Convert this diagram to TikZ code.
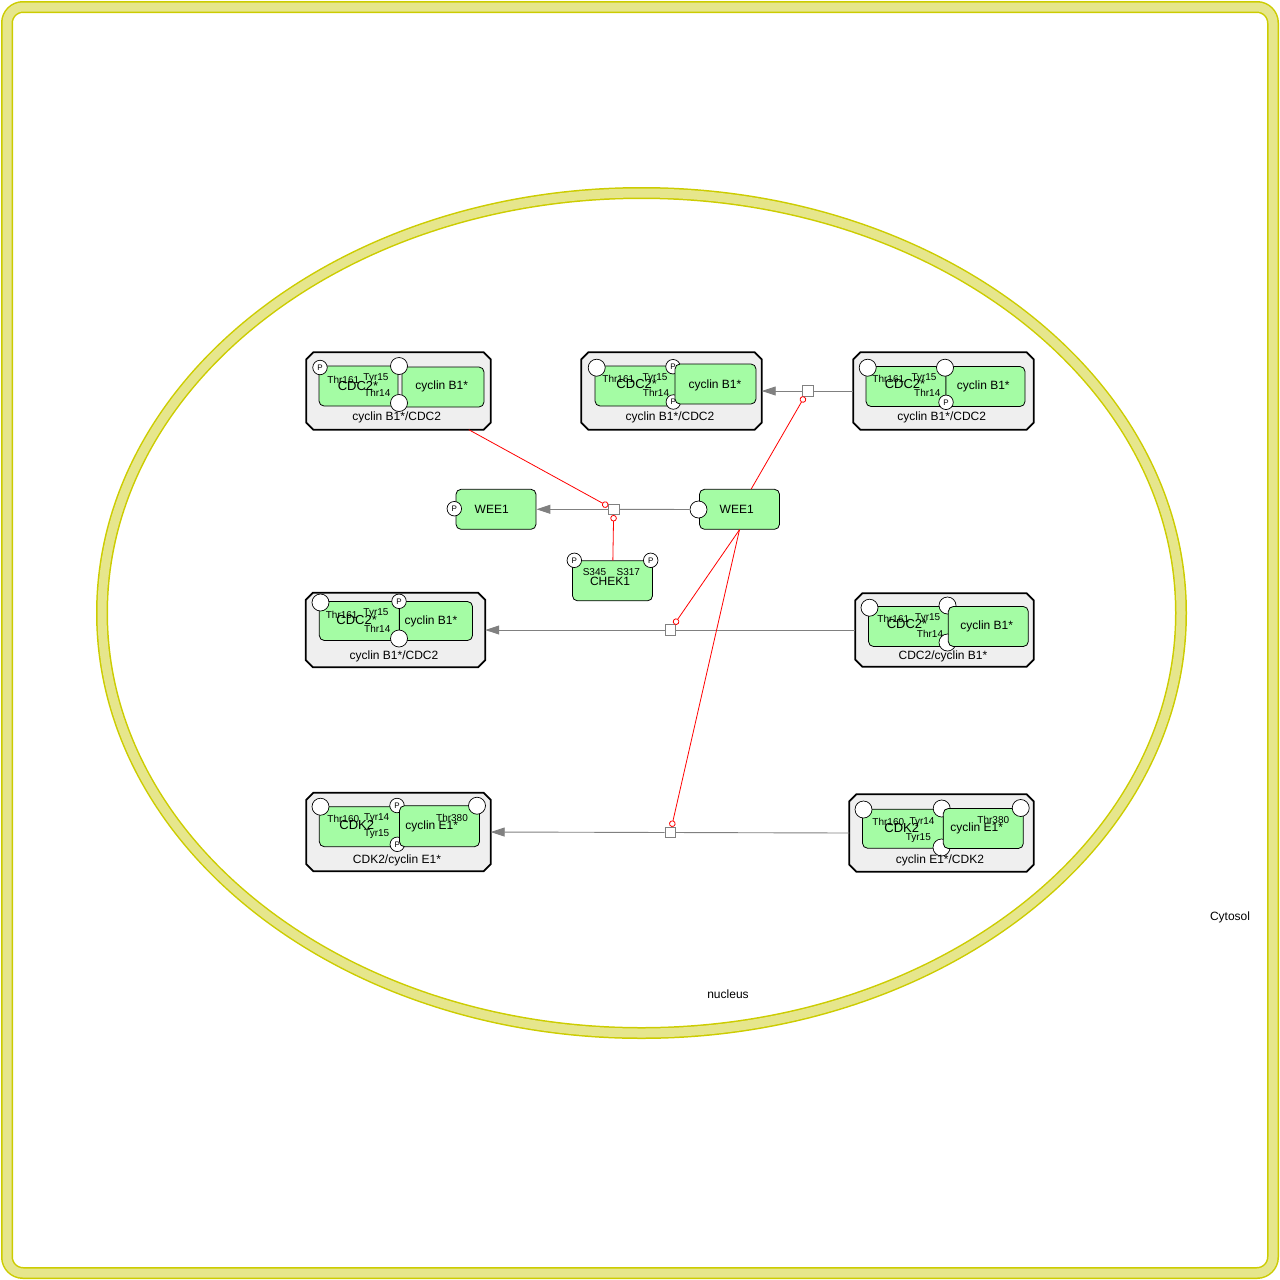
\documentclass[tikz,border=0pt]{standalone}
\usepackage{fontspec}
\setmainfont{Liberation Sans}
\usetikzlibrary{arrows.meta}
\definecolor{grn}{RGB}{164,252,164}
\definecolor{cbox}{RGB}{239,239,239}
\definecolor{ylight}{RGB}{230,230,140}
\definecolor{ydark}{RGB}{204,204,0}
\definecolor{lgray}{RGB}{128,128,128}
\newcommand\chamfbox[1]{\draw[line width=1.8pt, fill=cbox, line join=miter]
  ([xshift=7pt]#1.north west) -- ([xshift=-7pt]#1.north east) -- ([yshift=-7pt]#1.north east)
  -- ([yshift=7pt]#1.south east) -- ([xshift=-7pt]#1.south east) -- ([xshift=7pt]#1.south west)
  -- ([yshift=7pt]#1.south west) -- ([yshift=-7pt]#1.north west) -- cycle;}
\begin{document}
\begin{tikzpicture}[x=1pt,y=-1pt,
  cplx/.style={rectangle, inner sep=0pt},
  mono/.style={draw, fill=grn, rounded corners=5pt, inner sep=0pt, line width=0.8pt},
  svp/.style={circle, draw, fill=white, minimum size=14.5pt, inner sep=0pt, font=\fontsize{8}{8}\selectfont, line width=0.7pt},
  sve/.style={circle, draw, fill=white, minimum size=17pt, inner sep=0pt, line width=0.7pt},
  lbl/.style={font=\fontsize{12}{12}\selectfont, inner sep=0pt},
  big/.style={font=\fontsize{13}{13}\selectfont, inner sep=0pt},
  sml/.style={font=\fontsize{10}{10}\selectfont, inner sep=0pt},
  proc/.style={draw=lgray, fill=white, minimum size=10.5pt, inner sep=0pt, line width=0.8pt},
  cons/.style={draw=lgray, line width=0.9pt},
  prod/.style={draw=lgray, line width=0.9pt, -{Triangle[length=14pt,width=9pt,fill=lgray]}},
  modu/.style={draw=red, line width=0.8pt, -{Circle[open,length=6.5pt,fill=white]}}
]
\useasboundingbox (0,0) rectangle (1280,1280);
% compartments
\draw[ydark, line width=12pt, rounded corners=16pt] (7,7) rectangle (1273,1273);
\draw[ylight, line width=9pt, rounded corners=16pt] (7,7) rectangle (1273,1273);
\draw[ydark, line width=12pt] (641.5,613) ellipse [x radius=539.5pt, y radius=420pt];
\draw[ylight, line width=9pt] (641.5,613) ellipse [x radius=539.5pt, y radius=420pt];
\node[lbl] (cyt) at (1230,917) {Cytosol};
\node[lbl] (nuc) at (728,994) {nucleus};

% ---- complex 1 (top left)
\node[cplx, minimum width=184pt, minimum height=77pt] (c1) at (398.5,391) {};
\chamfbox{c1}
\node[mono, minimum width=79pt, minimum height=40pt] (c1a) at (358.5,386) {};
\node[mono, minimum width=82pt, minimum height=40pt] (c1b) at (443,387) {};
\node[svp] (c1s1) at (320,367.5) {P};
\node[sve] (c1s2) at (399,366) {};
\node[sve] (c1s3) at (399,403) {};
\node[big] (c1t1) at (358,386.5) {CDC2*};
\node[sml] (c1t2) at (343.3,379.5) {Thr161};
\node[sml] (c1t3) at (376,377.7) {Tyr15};
\node[sml] (c1t4) at (377.3,393.3) {Thr14};
\node[lbl] (c1t5) at (441.7,386.7) {cyclin B1*};
\node[lbl] (c1t6) at (396.7,417.7) {cyclin B1*/CDC2};

% ---- complex 2 (top middle)
\node[cplx, minimum width=180pt, minimum height=77pt] (c2) at (671.5,391) {};
\chamfbox{c2}
\node[mono, minimum width=82pt, minimum height=40pt] (c2a) at (636,386) {};
\node[sve] (c2s1) at (596.7,367.7) {};
\node[svp] (c2s2) at (673,366.7) {P};
\node[svp] (c2s3) at (673.3,402) {P};
\node[big] (c2t1) at (636.7,384.5) {CDC2*};
\node[sml] (c2t2) at (618.3,379.3) {Thr161};
\node[sml] (c2t3) at (655,377.7) {Tyr15};
\node[sml] (c2t4) at (656,392.7) {Thr14};
\node[mono, minimum width=81pt, minimum height=40pt] (c2b) at (715.5,384) {};
\node[lbl] (c2t5) at (715,385) {cyclin B1*};
\node[lbl] (c2t6) at (670,417.7) {cyclin B1*/CDC2};

% ---- complex 3 (top right)
\node[cplx, minimum width=180pt, minimum height=77pt] (c3) at (943.5,391) {};
\chamfbox{c3}
\node[mono, minimum width=80pt, minimum height=40pt] (c3a) at (906,386.5) {};
\node[mono, minimum width=79pt, minimum height=40pt] (c3b) at (985.5,386.5) {};
\node[sve] (c3s1) at (867.7,367.7) {};
\node[sve] (c3s2) at (945,367.7) {};
\node[svp] (c3s3) at (946,402.3) {P};
\node[big] (c3t1) at (905,384.5) {CDC2*};
\node[sml] (c3t2) at (888.3,379.3) {Thr161};
\node[sml] (c3t3) at (924,377.7) {Tyr15};
\node[sml] (c3t4) at (927.3,392.7) {Thr14};
\node[lbl] (c3t5) at (983.3,386.7) {cyclin B1*};
\node[lbl] (c3t6) at (941.7,417.7) {cyclin B1*/CDC2};

% ---- WEE1 / CHEK1
\node[mono, minimum width=80pt, minimum height=40pt] (w1) at (496,509.3) {};
\node[svp] (w1s) at (454.3,508.7) {P};
\node[lbl] (w1t) at (491.7,509.3) {WEE1};
\node[mono, minimum width=80pt, minimum height=40pt] (w2) at (739.5,509.3) {};
\node[sve] (w2s) at (698.5,509.5) {};
\node[lbl] (w2t) at (736.7,509.3) {WEE1};
\node[mono, minimum width=80pt, minimum height=40pt] (ck) at (612.5,580.8) {};
\node[svp] (cks1) at (574.3,560.3) {P};
\node[svp] (cks2) at (650.7,560.3) {P};
\node[sml] (ckt1) at (594.5,572) {S345};
\node[sml] (ckt2) at (628.3,572) {S317};
\node[lbl] (ckt3) at (610,581) {CHEK1};

% ---- complex 4 (middle left)
\node[cplx, minimum width=179pt, minimum height=74pt] (c4) at (395.5,630) {};
\chamfbox{c4}
\node[mono, minimum width=80pt, minimum height=39pt] (c4a) at (359.3,621) {};
\node[mono, minimum width=73pt, minimum height=39pt] (c4b) at (436,621) {};
\node[sve] (c4s1) at (320.5,602.5) {};
\node[svp] (c4s2) at (399,601.3) {P};
\node[sve] (c4s3) at (399,638.5) {};
\node[big] (c4t1) at (356.7,620) {CDC2*};
\node[sml] (c4t2) at (341.7,614.5) {Thr161};
\node[sml] (c4t3) at (376,613.5) {Tyr15};
\node[sml] (c4t4) at (377.3,628.5) {Thr14};
\node[lbl] (c4t5) at (431,621) {cyclin B1*};
\node[lbl] (c4t6) at (394,656) {cyclin B1*/CDC2};

% ---- complex 5 (middle right)
\node[cplx, minimum width=178pt, minimum height=73pt] (c5) at (944.5,630) {};
\chamfbox{c5}
\node[mono, minimum width=81pt, minimum height=40pt] (c5a) at (909,626.5) {};
\node[sve] (c5s1) at (869.5,607.7) {};
\node[sve] (c5s2) at (947.5,605.5) {};
\node[sve] (c5s3) at (947.5,642.5) {};
\node[big] (c5t1) at (907,624.5) {CDC2*};
\node[sml] (c5t2) at (893.3,619.3) {Thr161};
\node[sml] (c5t3) at (927.7,618.3) {Tyr15};
\node[sml] (c5t4) at (930,634.3) {Thr14};
\node[mono, minimum width=80pt, minimum height=40pt] (c5b) at (988.3,626.5) {};
\node[lbl] (c5t5) at (986.7,626.7) {cyclin B1*};
\node[lbl] (c5t6) at (943,656) {CDC2/cyclin B1*};

% ---- complex 6 (bottom left)
\node[cplx, minimum width=184pt, minimum height=78pt] (c6) at (398.5,832) {};
\chamfbox{c6}
\node[mono, minimum width=81pt, minimum height=40pt] (c6a) at (359.8,826.7) {};
\node[sve] (c6s1) at (320.5,806.7) {};
\node[svp] (c6s2) at (397,805.5) {P};
\node[svp] (c6s3) at (397.3,844.3) {P};
\node[big] (c6t1) at (356.7,825) {CDK2};
\node[sml] (c6t2) at (343.3,818.5) {Thr160};
\node[sml] (c6t3) at (376.7,818.5) {Tyr14};
\node[sml] (c6t4) at (376.7,834.5) {Tyr15};
\node[mono, minimum width=80pt, minimum height=41pt] (c6b) at (439.5,826.2) {};
\node[sve] (c6s4) at (477,805.7) {};
\node[lbl] (c6t5) at (431.7,826.5) {cyclin E1*};
\node[sml] (c6t6) at (452,818) {Thr380};
\node[lbl] (c6t7) at (397,860) {CDK2/cyclin E1*};

% ---- complex 7 (bottom right)
\node[cplx, minimum width=184pt, minimum height=77pt] (c7) at (941.5,833) {};
\chamfbox{c7}
\node[mono, minimum width=81pt, minimum height=39pt] (c7a) at (903,828.7) {};
\node[sve] (c7s1) at (863.5,809.5) {};
\node[sve] (c7s2) at (941.7,808.5) {};
\node[sve] (c7s3) at (941.5,847.5) {};
\node[big] (c7t1) at (901.7,828) {CDK2};
\node[sml] (c7t2) at (888.3,821.7) {Thr160};
\node[sml] (c7t3) at (922,821.7) {Tyr14};
\node[sml] (c7t4) at (918.3,837.7) {Tyr15};
\node[mono, minimum width=80pt, minimum height=40pt] (c7b) at (983.3,828.5) {};
\node[sve] (c7s4) at (1020.7,808) {};
\node[lbl] (c7t5) at (976.7,828.5) {cyclin E1*};
\node[sml] (c7t6) at (993.3,820) {Thr380};
\node[lbl] (c7t7) at (940,860) {cyclin E1*/CDK2};

% ---- process nodes
\node[proc] (p1) at (613.7,509.3) {};
\node[proc] (p2) at (807.8,391) {};
\node[proc] (p3) at (670.3,630) {};
\node[proc] (p4) at (670.3,832.5) {};

% ---- consumption / production
\draw[cons] (w2s) -- (p1);
\draw[prod] (p1) -- (w1);
\draw[cons] (c3) -- (p2);
\draw[prod] (p2) -- (c2);
\draw[cons] (c5) -- (p3);
\draw[prod] (p3) -- (c4);
\draw[cons] (c7.west) -- (p4);
\draw[prod] (p4) -- (c6.east);

% ---- modulations
\draw[modu] (c1) -- (p1);
\draw[modu] (ck) -- (p1);
\draw[modu] (w2) -- (p2);
\draw[modu] (w2.south) -- (p3);
\draw[modu] (w2.south) -- (p4);
\end{tikzpicture}
\end{document}
